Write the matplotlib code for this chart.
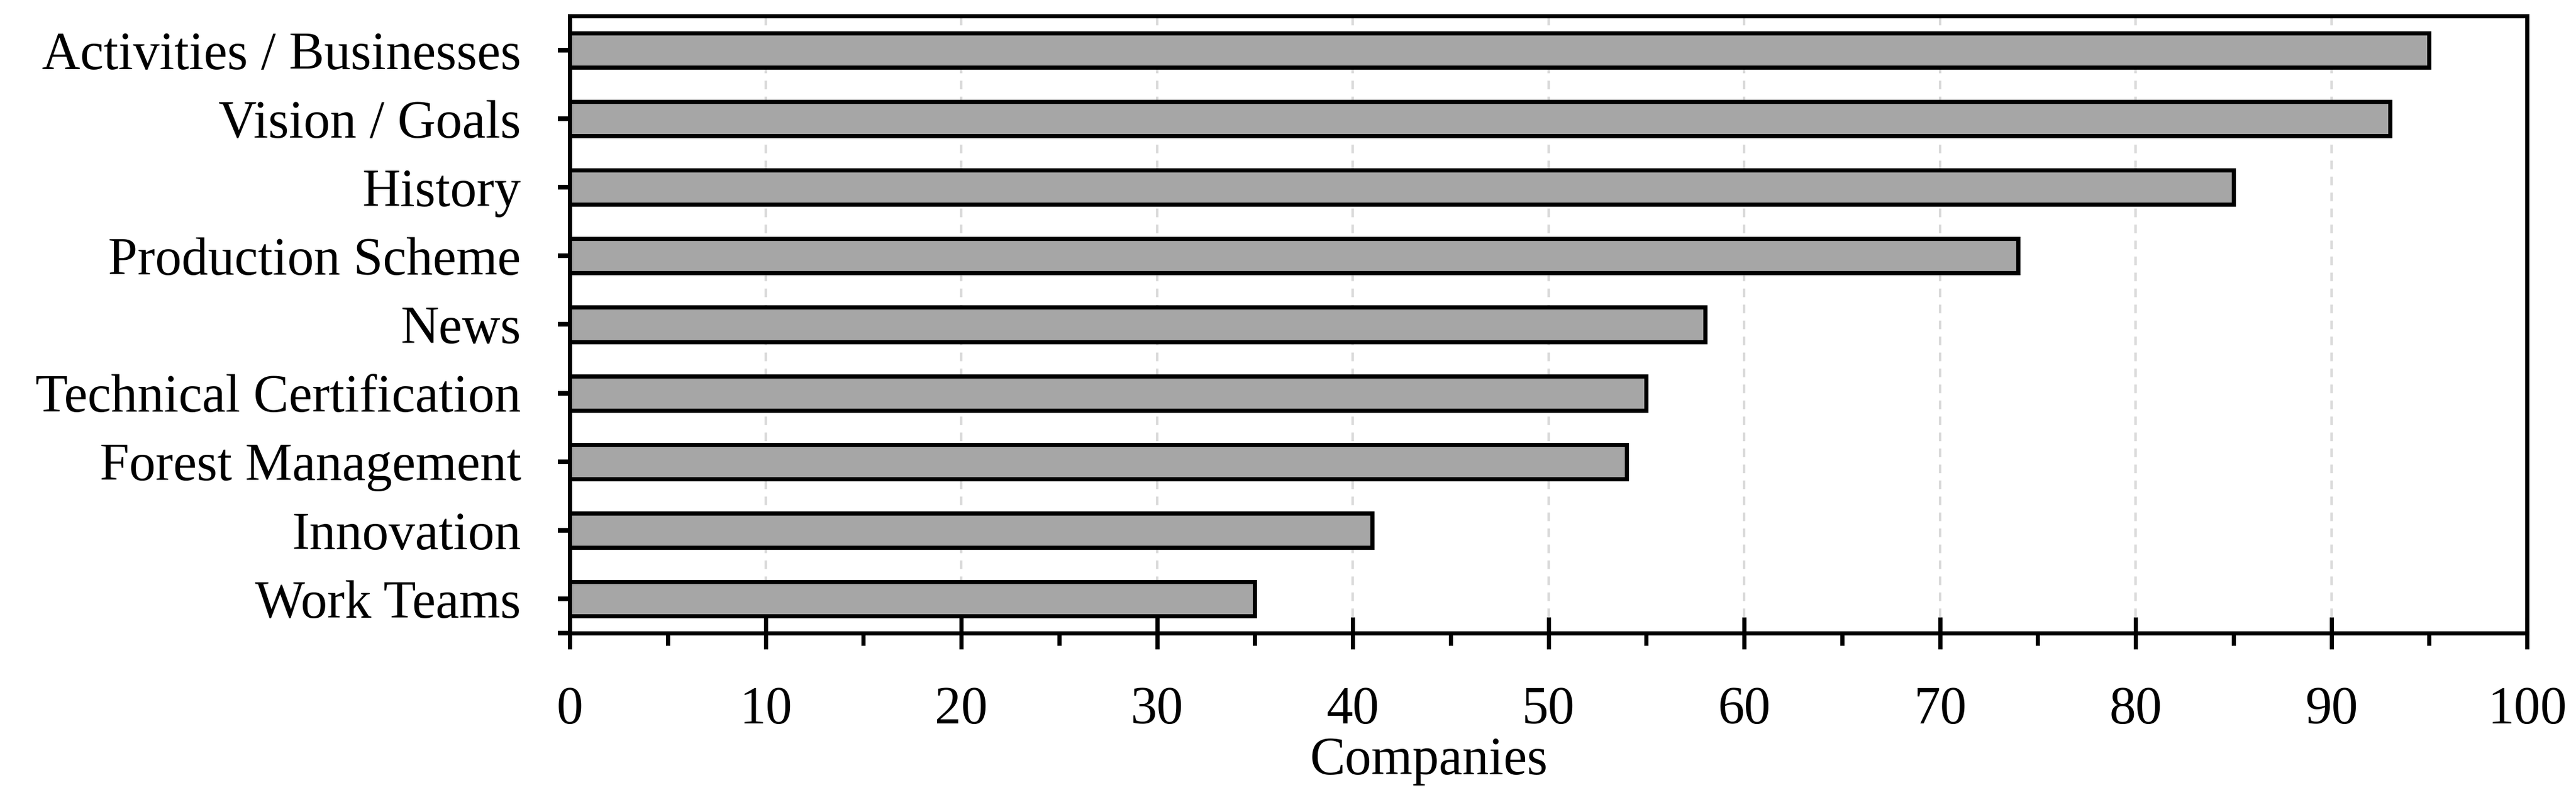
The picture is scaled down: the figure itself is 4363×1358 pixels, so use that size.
import matplotlib
matplotlib.use("Agg")
import matplotlib.pyplot as plt
from matplotlib.ticker import MultipleLocator

categories = ["Activities / Businesses", "Vision / Goals", "History", "Production Scheme",
              "News", "Technical Certification", "Forest Management", "Innovation", "Work Teams"]
companies = [95, 93, 85, 74, 58, 55, 54, 41, 35]

plt.rcParams["font.family"] = ["Liberation Serif", "DejaVu Serif"]
LW = 1.7
FS = 21.5

fig = plt.figure(figsize=(4363 / 300, 1358 / 300), dpi=300)
ax = fig.add_axes([965 / 4363, 1 - 1072 / 1358, (4280 - 965) / 4363, (1072 - 27) / 1358])

pos = list(range(len(categories)))
ax.barh(pos, companies, height=0.5, color="#a6a6a6", edgecolor="black", linewidth=LW, zorder=3)

ax.set_xlim(0, 100)
ax.set_ylim(len(categories) - 0.5, -0.5)
ax.set_yticks(pos + [len(categories) - 0.5])
ax.set_yticklabels(categories + [""], fontsize=FS)
ax.xaxis.set_major_locator(MultipleLocator(10))
ax.xaxis.set_minor_locator(MultipleLocator(5))
ax.tick_params(axis="x", which="major", direction="inout", length=13, width=LW, labelsize=FS, pad=15)
ax.tick_params(axis="x", which="minor", direction="out", length=5, width=LW)
ax.tick_params(axis="y", direction="out", length=4.8, width=1.9, pad=15)

for s in ax.spines.values():
    s.set_linewidth(LW)

ax.grid(axis="x", which="major", color="#d9d9d9", linestyle=(0, (3.5, 3)), linewidth=1.0)
ax.set_axisbelow(True)

ax.set_xlabel("Companies", fontsize=FS)
ax.xaxis.set_label_coords(0.439, -0.168)

fig.savefig("out.png", dpi=300)
